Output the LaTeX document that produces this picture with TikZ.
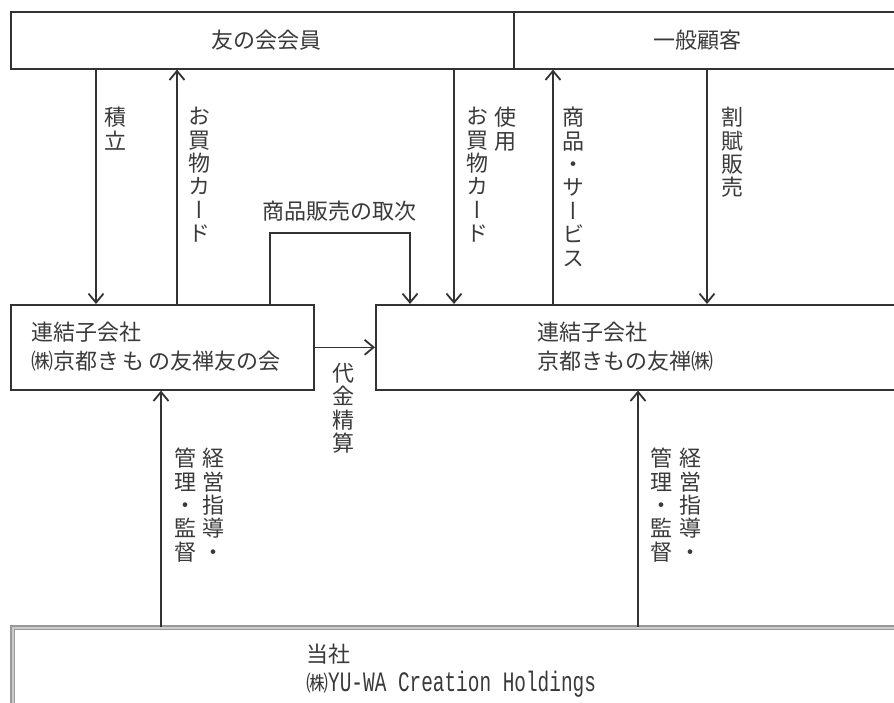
\documentclass[tikz,border=0pt]{standalone}
\usepackage{fontspec}
\usepackage{graphicx}
\setmainfont{Noto Sans CJK JP}
\newfontfamily\vfont[RawFeature=+vert]{Noto Sans CJK JP}
\newfontfamily\latinmono{Liberation Mono}
\usetikzlibrary{arrows.meta}
\definecolor{ln}{HTML}{333333}
\definecolor{tx}{HTML}{3A3A3A}
\tikzset{
  box/.style={draw=ln, line width=1.6pt, rectangle, inner sep=0pt, anchor=north west},
  arr/.style={draw=ln, line width=1.6pt, -{Straight Barb[length=9pt,width=15pt,line width=1.8pt]}},
  lab/.style={text=tx, inner sep=0pt, font=\fontsize{22}{24}\selectfont},
  vlab/.style={text=tx, inner sep=0pt, anchor=north, align=center, font=\vfont\fontsize{22}{23.4}\selectfont},
  boxtext/.style={text=tx, inner sep=0pt, anchor=north west, align=left, font=\fontsize{22}{29}\selectfont},
  basetext/.style={text=tx, inner sep=0pt, anchor=base west, font=\fontsize{22}{26}\selectfont},
}
\begin{document}
\begin{tikzpicture}[x=1pt,y=-1pt]
\useasboundingbox (0,0) rectangle (894,703);
\clip (0,0) rectangle (894,703);
\fill[white] (0,0) rectangle (894,703);
% boxes
\node[box, minimum width=503pt, minimum height=57pt] (tl) at (10,11) {};
\node[box, minimum width=400pt, minimum height=57pt] (tr) at (513,11) {};
\node[box, minimum width=303pt, minimum height=85pt] (lb) at (10,304) {};
\node[box, minimum width=540pt, minimum height=85pt] (rb) at (375,304) {};
\node[box, draw=gray!80, line width=1.4pt, double=gray!40, double distance=2.2pt, minimum width=900pt, minimum height=110pt] (bb) at (12,627) {};
% box texts
\node[lab] (tlt) at (266,40) {友の会会員};
\node[lab] (trt) at (697,40) {一般顧客};
\node[boxtext] (lbt) at (31,322) {連結子会社\\㈱京都き\,も\,の友禅友の会};
\node[boxtext] (rbt) at (537,322) {連結子会社\\京都きもの友禅㈱};
\node[basetext] (bbt1) at (306,662) {当社};
\node[basetext] (bbt2) at (306,691) {㈱\scalebox{1}[1.45]{\latinmono\fontsize{19.4}{24}\selectfont YU-WA Creation Holdings}};
% coordinates for connector positions
\coordinate (xa) at (96,0);
\coordinate (xb) at (177,0);
\coordinate (xc) at (454,0);
\coordinate (xd) at (553,0);
\coordinate (xe) at (707,0);
\coordinate (xf) at (410,0);
\coordinate (xg) at (161,0);
\coordinate (xh) at (638,0);
\coordinate (k) at (270,233);
% connectors
\draw[arr] (tl.south -| xa) -- (lb.north -| xa);
\draw[arr] (lb.north -| xb) -- (tl.south -| xb);
\draw[arr] (tl.south -| xc) -- (rb.north -| xc);
\draw[arr] (rb.north -| xd) -- (tr.south -| xd);
\draw[arr] (tr.south -| xe) -- (rb.north -| xe);
\draw[arr] (lb.north -| k) -- (k) -| (rb.north -| xf);
\draw[arr] (lb.east) -- (rb.west);
\draw[arr] (bb.north -| xg) -- (lb.south -| xg);
\draw[arr] (bb.north -| xh) -- (rb.south -| xh);
% labels
\node[vlab] (l1) at (115,107) {積\\立};
\node[vlab] (l2) at (199,107) {お\\買\\物\\カ\\ー\\ド};
\node[lab] (l3) at (339,211) {商品販売の取次};
\node[vlab] (l4a) at (505,107) {使\\用};
\node[vlab] (l4b) at (477,107) {お\\買\\物\\カ\\ー\\ド};
\node[vlab] (l5) at (573,107) {商\\品\\・\\サ\\ー\\ビ\\ス};
\node[vlab] (l6) at (732,107) {割\\賦\\販\\売};
\node[vlab] (l7) at (343,363) {代\\金\\精\\算};
\node[vlab] (l8a) at (213,448) {経\\営\\指\\導\\・};
\node[vlab] (l8b) at (185,448) {管\\理\\・\\監\\督};
\node[vlab] (l9a) at (690,448) {経\\営\\指\\導\\・};
\node[vlab] (l9b) at (661,448) {管\\理\\・\\監\\督};
\end{tikzpicture}
\end{document}
